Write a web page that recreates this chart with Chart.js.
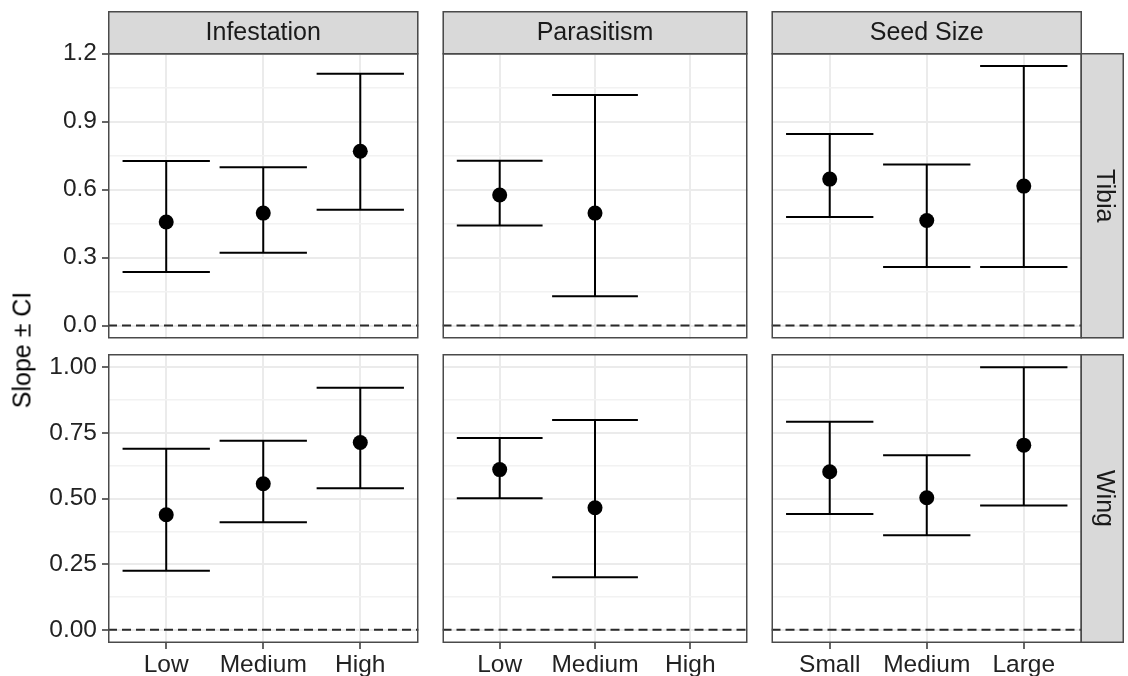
<!DOCTYPE html>
<html>
<head>
<meta charset="utf-8">
<script src="https://cdn.jsdelivr.net/npm/chart.js@4"></script>
<style>
html,body{margin:0;padding:0;background:#fff;}
#wrap{position:relative;width:1128px;height:676px;overflow:hidden;background:#fff;}
#wrap canvas{position:absolute;}
#ytitle{position:absolute;left:22px;top:350px;transform:translate(-50%,-50%) rotate(-90deg);font:25px "Liberation Sans",Arial,sans-serif;color:#000;white-space:nowrap;z-index:5;}
</style>
</head>
<body>
<div id="wrap"><div id="ytitle">Slope ± CI</div></div>
<script>
// ---------- data ----------
const columnLabels = ['Infestation', 'Parasitism', 'Seed Size'];
const rowLabels = ['Tibia', 'Wing'];
const infestationCats = ['Low', 'Medium', 'High'];
const parasitismCats = ['Low', 'Medium', 'High'];
const seedSizeCats = ['Small', 'Medium', 'Large'];

const tibiaTickValues = [0, 0.3, 0.6, 0.9, 1.2];
const tibiaTickLabels = ['0.0', '0.3', '0.6', '0.9', '1.2'];
const tibiaMinorTicks = [0.15, 0.45, 0.75, 1.05];
const wingTickValues = [0, 0.25, 0.5, 0.75, 1.0];
const wingTickLabels = ['0.00', '0.25', '0.50', '0.75', '1.00'];
const wingMinorTicks = [0.125, 0.375, 0.625, 0.875];

// Tibia
const tibiaInfestationEst = [0.457, 0.496, 0.769];
const tibiaInfestationLo  = [0.236, 0.321, 0.511];
const tibiaInfestationHi  = [0.726, 0.698, 1.111];
const tibiaParasitismEst = [0.576, 0.496, null];
const tibiaParasitismLo  = [0.441, 0.129, null];
const tibiaParasitismHi  = [0.727, 1.017, null];
const tibiaSeedSizeEst = [0.646, 0.463, 0.615];
const tibiaSeedSizeLo  = [0.479, 0.258, 0.258];
const tibiaSeedSizeHi  = [0.845, 0.710, 1.145];
// Wing
const wingInfestationEst = [0.438, 0.556, 0.713];
const wingInfestationLo  = [0.225, 0.410, 0.539];
const wingInfestationHi  = [0.689, 0.720, 0.922];
const wingParasitismEst = [0.610, 0.465, null];
const wingParasitismLo  = [0.501, 0.200, null];
const wingParasitismHi  = [0.730, 0.799, null];
const wingSeedSizeEst = [0.602, 0.503, 0.703];
const wingSeedSizeLo  = [0.441, 0.360, 0.473];
const wingSeedSizeHi  = [0.792, 0.665, 1.000];

const referenceLine = 0;

// ---------- assembly ----------
const colCats = [infestationCats, parasitismCats, seedSizeCats];
const rowsDef = [
  { ticks: tibiaTickValues, labels: tibiaTickLabels, minor: tibiaMinorTicks,
    panels: [
      [tibiaInfestationEst, tibiaInfestationLo, tibiaInfestationHi],
      [tibiaParasitismEst, tibiaParasitismLo, tibiaParasitismHi],
      [tibiaSeedSizeEst, tibiaSeedSizeLo, tibiaSeedSizeHi]
    ]},
  { ticks: wingTickValues, labels: wingTickLabels, minor: wingMinorTicks,
    panels: [
      [wingInfestationEst, wingInfestationLo, wingInfestationHi],
      [wingParasitismEst, wingParasitismLo, wingParasitismHi],
      [wingSeedSizeEst, wingSeedSizeLo, wingSeedSizeHi]
    ]}
];

const FONT = '"Liberation Sans", Arial, sans-serif';
const colLeft = [108, 437, 766];
const panelW = 316;
const rowTop = [53, 354];
const panelH = 289;
const stripSize = 42;
const capHalf = 0.45;
const xMin = -0.6, xMax = 2.6;

const decor = {
  id: 'decor',
  afterDraw(chart, args, o) {
    const ctx = chart.ctx, a = chart.chartArea;
    ctx.save();
    ctx.strokeStyle = '#4a4a4a';
    ctx.lineWidth = 1.5;
    ctx.strokeRect(a.left + 0.75, a.top + 0.75, a.right - a.left - 1.5, a.bottom - a.top - 1.5);
    ctx.font = '25px ' + FONT;
    ctx.textAlign = 'center';
    ctx.textBaseline = 'middle';
    if (o.top) {
      ctx.fillStyle = '#d9d9d9';
      ctx.fillRect(a.left, a.top - stripSize, a.right - a.left, stripSize);
      ctx.strokeRect(a.left + 0.75, a.top - stripSize + 0.75, a.right - a.left - 1.5, stripSize);
      ctx.fillStyle = '#1a1a1a';
      ctx.fillText(o.top, (a.left + a.right) / 2, a.top - stripSize / 2 + 1);
    }
    if (o.right) {
      ctx.fillStyle = '#d9d9d9';
      ctx.fillRect(a.right, a.top, stripSize, a.bottom - a.top);
      ctx.strokeRect(a.right - 0.75, a.top + 0.75, stripSize, a.bottom - a.top - 1.5);
      ctx.fillStyle = '#1a1a1a';
      ctx.translate(a.right + stripSize / 2 + 1, (a.top + a.bottom) / 2);
      ctx.rotate(Math.PI / 2);
      ctx.fillText(o.right, 0, 0);
    }
    ctx.restore();
  }
};

const wrap = document.getElementById('wrap');

rowsDef.forEach((row, r) => {
  let lo = referenceLine, hi = referenceLine;
  row.panels.forEach(p => {
    p[1].forEach(v => { if (v !== null) lo = Math.min(lo, v); });
    p[2].forEach(v => { if (v !== null) hi = Math.max(hi, v); });
  });
  const pad = 0.05 * (hi - lo);
  const yMin = lo - pad, yMax = hi + pad;
  const allTicks = row.ticks.concat(row.minor).sort((a, b) => a - b);
  const isMajor = v => row.ticks.some(t => Math.abs(t - v) < 1e-9);

  row.panels.forEach((p, c) => {
    const [est, lower, upper] = p;
    const cats = colCats[c];
    const L = c === 0 ? 108 : 2;
    const T = r === 0 ? 53 : 16;
    const R = c === 2 ? 46 : 2;
    const B = r === 1 ? 33 : 4;
    const cv = document.createElement('canvas');
    const W = L + panelW + R, H = T + panelH + B;
    cv.width = W; cv.height = H;
    cv.style.width = W + 'px'; cv.style.height = H + 'px';
    cv.style.left = (colLeft[c] - L) + 'px';
    cv.style.top = (rowTop[r] - T) + 'px';
    wrap.appendChild(cv);

    const points = [], bars = [];
    est.forEach((v, i) => {
      if (v === null) return;
      points.push({ x: i, y: v });
      bars.push({ x: i, y: lower[i] }, { x: i, y: upper[i] }, { x: i, y: null });
      bars.push({ x: i - capHalf, y: upper[i] }, { x: i + capHalf, y: upper[i] }, { x: i, y: null });
      bars.push({ x: i - capHalf, y: lower[i] }, { x: i + capHalf, y: lower[i] }, { x: i, y: null });
    });

    new Chart(cv, {
      type: 'scatter',
      data: {
        datasets: [
          { type: 'scatter', data: points, order: 0, pointRadius: 7.5, pointHoverRadius: 7.5,
            backgroundColor: '#000', borderColor: '#000', borderWidth: 0 },
          { type: 'line', data: bars, order: 1, borderColor: '#000', borderWidth: 2,
            pointRadius: 0, showLine: true, spanGaps: false, fill: false, tension: 0 },
          { type: 'line', data: [{ x: xMin, y: referenceLine }, { x: xMax, y: referenceLine }], order: 2,
            borderColor: '#2a2a2a', borderWidth: 2, borderDash: [9, 5], pointRadius: 0,
            showLine: true, fill: false }
        ]
      },
      options: {
        responsive: false,
        animation: false,
        devicePixelRatio: 1,
        events: [],
        layout: { padding: { left: c === 0 ? 0 : L, top: T, right: R, bottom: r === 1 ? 0 : B } },
        plugins: {
          legend: { display: false }, tooltip: { enabled: false }, title: { display: false },
          decor: { top: r === 0 ? columnLabels[c] : null, right: c === 2 ? rowLabels[r] : null }
        },
        scales: {
          x: {
            type: 'linear', min: xMin, max: xMax, bounds: 'data',
            afterBuildTicks: s => { s.ticks = cats.map((_, i) => ({ value: i })); },
            afterFit: s => { s.height = r === 1 ? B : 0; s.paddingLeft = 0; s.paddingRight = 0; s.paddingTop = 0; s.paddingBottom = 0; },
            border: { display: false },
            grid: { color: '#ebebeb', lineWidth: 2, drawTicks: r === 1, tickLength: 6,
                    tickColor: '#333', tickWidth: 1.5 },
            ticks: { display: r === 1, autoSkip: false, maxRotation: 0, padding: 2,
                     color: '#222', font: { family: FONT, size: 24.5 },
                     callback: v => cats[v] }
          },
          y: {
            type: 'linear', min: yMin, max: yMax, bounds: 'data',
            afterBuildTicks: s => { s.ticks = allTicks.map(v => ({ value: v })); },
            afterFit: s => { s.width = c === 0 ? L : 0; s.paddingLeft = 0; s.paddingRight = 0; s.paddingTop = 0; s.paddingBottom = 0; },
            border: { display: false },
            grid: {
              color: ctx => (ctx.tick && isMajor(ctx.tick.value)) ? '#ebebeb' : '#f2f2f2',
              lineWidth: ctx => (ctx.tick && isMajor(ctx.tick.value)) ? 2 : 1.5,
              drawTicks: c === 0, tickLength: 6, tickWidth: 1.5,
              tickColor: ctx => (ctx.tick && isMajor(ctx.tick.value)) ? '#333' : 'rgba(0,0,0,0)'
            },
            ticks: { display: c === 0, autoSkip: false, padding: 5,
                     color: '#222', font: { family: FONT, size: 24.5 },
                     callback: v => { const k = row.ticks.findIndex(t => Math.abs(t - v) < 1e-9); return k >= 0 ? row.labels[k] : ''; } }
          }
        }
      },
      plugins: [decor]
    });
  });
});
</script>
</body>
</html>
